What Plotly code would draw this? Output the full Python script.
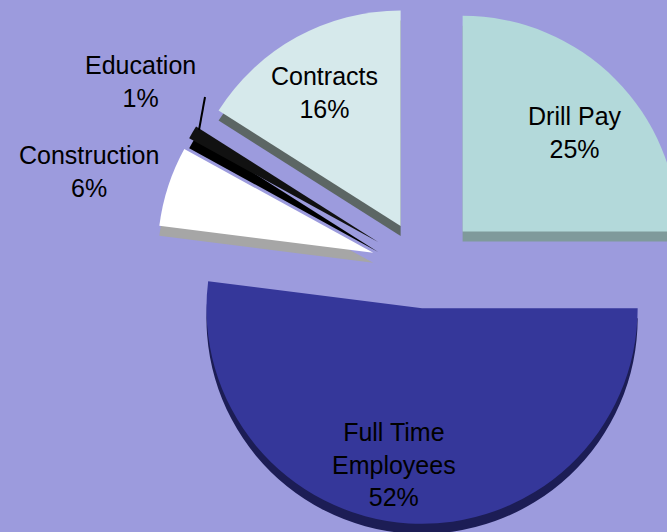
import plotly.graph_objects as go

# Data
categories = ["Drill Pay", "Full Time Employees", "Construction", "Education", "Contracts"]
display_names = ["Drill Pay", "Full Time<br>Employees", "Construction", "Education", "Contracts"]
values = [25, 52, 6, 1, 16]
pulls = [0.25, 0.18, 0.25, 0.25, 0.23]

top_colors = ["#B3D9DA", "#35379A", "#FFFFFF", "#111111", "#D6E9EB"]
side_colors = ["#7F9A9B", "#1C1D55", "#A6A6A6", "#000000", "#5C6664"]

# label centres (pixels) – layout only
label_px = [(575, 133), (394, 464), (89, 171), (140, 82), (324, 93)]

BG = "#9C9BDD"
W, H = 849, 549
DEPTH = 10

fig = go.Figure()

# side (thickness) layer
fig.add_trace(go.Pie(
    labels=categories, values=values, sort=False, direction="clockwise", rotation=0,
    pull=pulls, marker=dict(colors=side_colors, line=dict(width=0)),
    textinfo="none", hoverinfo="skip", showlegend=False,
    domain=dict(x=[0, 1], y=[0, (H - DEPTH) / H]),
))

# top face
fig.add_trace(go.Pie(
    labels=categories, values=values, sort=False, direction="clockwise", rotation=0,
    pull=pulls, marker=dict(colors=top_colors, line=dict(width=0)),
    textinfo="none", showlegend=False,
    domain=dict(x=[0, 1], y=[DEPTH / H, 1]),
))

total = sum(values)
for name, v, (px, py) in zip(display_names, values, label_px):
    fig.add_annotation(
        x=px / W, y=1 - py / H, xref="paper", yref="paper",
        xanchor="center", yanchor="middle",
        text=f"{name}<br>{round(100 * v / total)}%", showarrow=False,
        font=dict(family="Liberation Sans, Arial", size=25, color="black"),
    )

fig.add_shape(type="line", xref="paper", yref="paper",
              x0=205 / W, y0=1 - 97 / H, x1=199 / W, y1=1 - 130 / H,
              line=dict(color="black", width=2))

fig.update_layout(
    width=W, height=H, autosize=False,
    margin=dict(l=0, r=0, t=0, b=0),
    paper_bgcolor=BG, plot_bgcolor=BG,
)

fig.write_html("out.html", post_script="document.body.style.margin='0';document.body.style.overflow='hidden';document.documentElement.style.overflow='hidden';")
